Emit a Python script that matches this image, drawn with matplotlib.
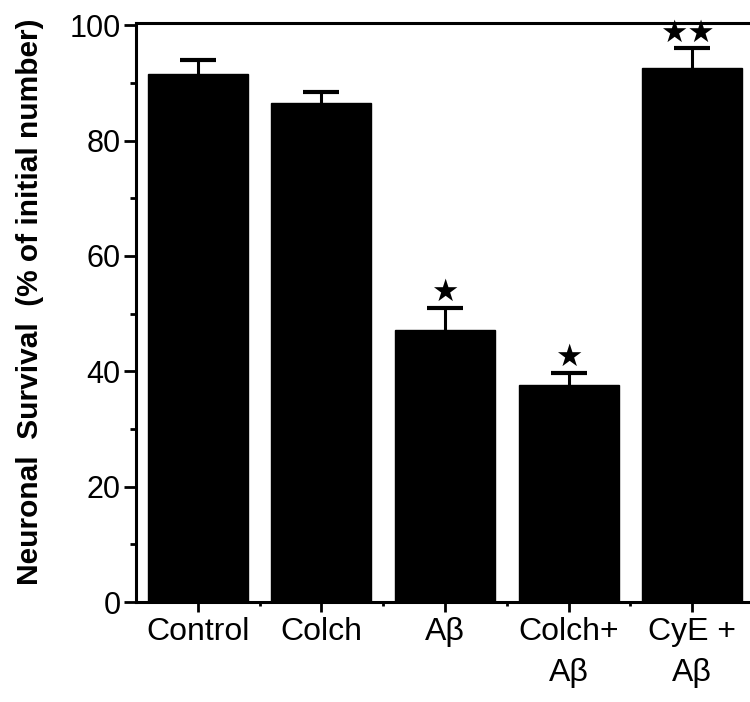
import matplotlib
matplotlib.use("Agg")
import matplotlib.pyplot as plt
from matplotlib.ticker import MultipleLocator, FixedLocator

plt.rcParams['font.family'] = ['Liberation Sans Narrow', 'Liberation Sans', 'DejaVu Sans']

categories = ["Control", "Colch", "A\u03b2", "Colch+\nA\u03b2", "CyE +\nA\u03b2"]
survival = [91.5, 86.5, 47.2, 37.6, 92.6]
errors = [2.4, 2.0, 3.8, 2.1, 3.4]
significance = ["", "", "\u2605", "\u2605", "\u2605\u2605"]
y_ticks = [0, 20, 40, 60, 80, 100]

fig = plt.figure(figsize=(7.5, 7.02), dpi=100)
ax = fig.add_axes([136/750, 1-602/702, (749-136)/750, (602-23)/702])

x = list(range(len(categories)))
ax.bar(x, survival, width=0.81, color='black', edgecolor='black')
_, caps, _ = ax.errorbar(x, survival, yerr=[[0]*len(errors), errors], fmt='none',
                         ecolor='black', elinewidth=2.2, capsize=13, capthick=3)
if len(caps) == 2:
    caps[0].set_visible(False)
for xi, v, e, s in zip(x, survival, errors, significance):
    if s:
        ax.annotate(s, (xi - 0.04 if len(s) > 1 else xi, v + e), xytext=(0, 11),
                    textcoords='offset points', ha='center', va='center',
                    fontsize=22, family='DejaVu Sans', color='black')

ax.set_xlim(-0.5, 4.46)
ax.set_ylim(0, 100.4)
ax.set_yticks(y_ticks)
ax.yaxis.set_minor_locator(MultipleLocator(10))
ax.set_xticks(x)
ax.set_xticklabels(categories, fontsize=23, linespacing=1.45)
ax.xaxis.set_minor_locator(FixedLocator([0.5, 1.5, 2.5, 3.5]))
ax.tick_params(axis='y', which='major', length=9, width=2, labelsize=22, pad=2)
ax.tick_params(axis='y', which='minor', length=4.5, width=2)
ax.tick_params(axis='x', which='major', length=7, width=2, pad=4)
ax.tick_params(axis='x', which='minor', length=3, width=2)
for sp in ['left', 'top', 'bottom']:
    ax.spines[sp].set_linewidth(2.2)
ax.spines['right'].set_visible(False)

fig.text(30/750, 1-302/702, "Neuronal  Survival  (% of initial number)",
         rotation=90, ha='center', va='center', fontsize=21.5, fontweight='bold')

fig.savefig("out.png", dpi=100)
